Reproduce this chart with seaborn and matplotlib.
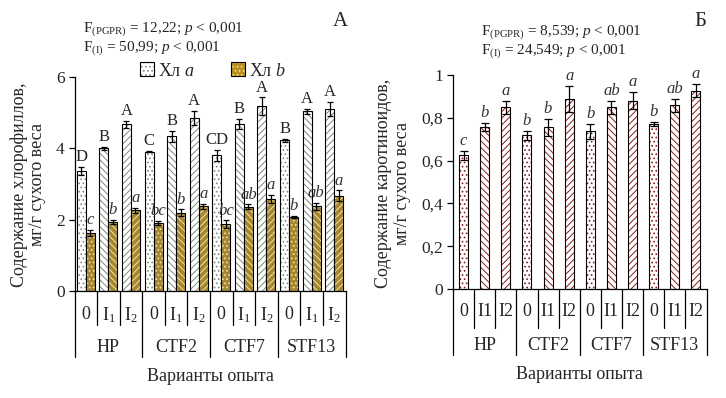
import numpy as np
import pandas as pd
import matplotlib
matplotlib.use('Agg')
import matplotlib.pyplot as plt
import seaborn as sns
import matplotlib.colors as mcolors
from matplotlib.ticker import FuncFormatter, FixedLocator
from matplotlib.patches import Patch
import matplotlib.transforms as mtransforms

# ---------------- data ----------------
groups = ['HP', 'CTF2', 'CTF7', 'STF13']
levels_left = ['0', 'I$_1$', 'I$_2$']
levels_right = ['0', 'I1', 'I2']

chl_a = [3.37, 4.00, 4.68, 3.91, 4.34, 4.85, 3.80, 4.68, 5.18, 4.22, 5.04, 5.10]
chl_a_err = [0.12, 0.05, 0.10, 0.02, 0.15, 0.20, 0.15, 0.15, 0.25, 0.05, 0.07, 0.20]
chl_b = [1.63, 1.94, 2.26, 1.91, 2.19, 2.37, 1.88, 2.36, 2.58, 2.08, 2.37, 2.67]
chl_b_err = [0.08, 0.05, 0.07, 0.05, 0.10, 0.07, 0.10, 0.07, 0.12, 0.03, 0.10, 0.15]
letters_a = ['D', 'B', 'A', 'C', 'B', 'A', 'CD', 'B', 'A', 'B', 'A', 'A']
letters_b = ['c', 'b', 'a', 'bc', 'b', 'a', 'bc', 'ab', 'a', 'b', 'ab', 'a']

carot = [0.625, 0.756, 0.849, 0.718, 0.756, 0.889, 0.737, 0.849, 0.880, 0.770, 0.858, 0.927]
carot_err = [0.02, 0.02, 0.03, 0.02, 0.04, 0.06, 0.035, 0.03, 0.04, 0.01, 0.03, 0.03]
letters_c = ['c', 'b', 'a', 'b', 'b', 'a', 'b', 'ab', 'a', 'b', 'ab', 'a']

pig_names = ['Хл a', 'Хл b']

# ---------------- style ----------------
sns.set_theme(style='white')
plt.rcParams['font.family'] = ['Liberation Serif', 'DejaVu Serif']
plt.rcParams['mathtext.fontset'] = 'custom'
plt.rcParams['mathtext.rm'] = 'Liberation Serif'
plt.rcParams['mathtext.it'] = 'Liberation Serif:italic'
plt.rcParams['hatch.linewidth'] = 0.7

GOLD = '#B8901E'
HATCH_A = '#7E8A78'
HATCH_B = '#F2E3A8'
RED = '#8B1A1A'
hatches = ['....', '\\\\\\\\\\', '/////']

cats = [f'{g}|{l}' for g in groups for l in levels_right]
n = len(cats)

fig = plt.figure(figsize=(7.26, 3.98), dpi=100)
W, H = 726, 398


def px_axes(x0, x1, y0, y1):
    return fig.add_axes([x0 / W, 1 - y0 / H, (x1 - x0) / W, (y0 - y1) / H])


axL = px_axes(74.5, 345.5, 291, 77)
axR = px_axes(453, 706.5, 289, 75)

# ---------------- left chart ----------------
dfL = pd.DataFrame({
    'cat': cats * 2,
    'pigment': [pig_names[0]] * n + [pig_names[1]] * n,
    'value': chl_a + chl_b,
})
sns.barplot(data=dfL, x='cat', y='value', hue='pigment', order=cats,
            hue_order=pig_names, palette={pig_names[0]: 'white', pig_names[1]: GOLD},
            width=0.8, edgecolor='black', linewidth=0.8, errorbar=None,
            legend=False, ax=axL)
for ci, cont in enumerate(axL.containers[:2]):
    hc = HATCH_A if ci == 0 else HATCH_B
    for i, bar in enumerate(cont):
        bar.set_hatch(hatches[i % 3])
        bar._hatch_color = mcolors.to_rgba(hc)

xs = np.arange(n)
axL.errorbar(xs - 0.2, chl_a, yerr=chl_a_err, fmt='none', ecolor='black',
             elinewidth=0.9, capsize=2.5, capthick=0.9)
axL.errorbar(xs + 0.2, chl_b, yerr=chl_b_err, fmt='none', ecolor='black',
             elinewidth=0.9, capsize=2.5, capthick=0.9)
for i in range(n):
    axL.text(xs[i] - 0.2, chl_a[i] + chl_a_err[i] + 0.05, letters_a[i],
             ha='center', va='bottom', fontsize=12)
    axL.text(xs[i] + 0.2, chl_b[i] + chl_b_err[i] + 0.05, letters_b[i],
             ha='center', va='bottom', fontsize=12, style='italic', color='#333333')

axL.set_xlim(-0.5, n - 0.5)
axL.set_ylim(0, 6)
axL.yaxis.set_major_locator(FixedLocator([0, 2, 4, 6]))
axL.yaxis.set_major_formatter(FuncFormatter(lambda v, p: f'{v:g}'.replace('.', ',')))

# ---------------- right chart ----------------
dfR = pd.DataFrame({'cat': cats, 'value': carot})
sns.barplot(data=dfR, x='cat', y='value', order=cats, color='white',
            width=0.43, edgecolor='black', linewidth=0.8, errorbar=None, ax=axR)
for i, bar in enumerate(axR.containers[0]):
    bar.set_facecolor('white')
    bar.set_hatch(hatches[i % 3])
    bar._hatch_color = mcolors.to_rgba(RED)
axR.errorbar(xs, carot, yerr=carot_err, fmt='none', ecolor='black',
             elinewidth=0.9, capsize=3, capthick=0.9)
for i in range(n):
    axR.text(xs[i], carot[i] + carot_err[i] + 0.008, letters_c[i],
             ha='center', va='bottom', fontsize=12, style='italic', color='#333333')
axR.set_xlim(-0.5, n - 0.5)
axR.set_ylim(0, 1)
axR.yaxis.set_major_locator(FixedLocator([0, 0.2, 0.4, 0.6, 0.8, 1.0]))
axR.yaxis.set_major_formatter(FuncFormatter(lambda v, p: f'{v:g}'.replace('.', ',')))

# ---------------- common axis styling ----------------
for ax, lv, inner, outer, ylev, ygrp in [
        (axL, levels_left, -0.159, -0.308, -0.112, -0.262),
        (axR, levels_right, -0.182, -0.308, -0.107, -0.262)]:
    for s in ['top', 'right']:
        ax.spines[s].set_visible(False)
    for s in ['left', 'bottom']:
        ax.spines[s].set_color('black')
        ax.spines[s].set_linewidth(0.9)
    ax.set_xticks([])
    ax.set_xlabel('')
    ax.set_ylabel('')
    ax.tick_params(axis='y', direction='out', length=4, width=0.9, color='black',
                   left=True, labelsize=12.5, pad=3)
    tr = mtransforms.blended_transform_factory(ax.transData, ax.transAxes)
    for b in range(n + 1):
        y1 = outer if b % 3 == 0 else inner
        ax.plot([b - 0.5, b - 0.5], [0, y1], color='black', lw=0.9,
                transform=tr, clip_on=False)
    for i in range(n):
        ax.text(i, ylev, lv[i % 3], transform=tr, ha='center', va='center',
                fontsize=13)
    for g, name in enumerate(groups):
        ax.text(3 * g + 1, ygrp, name, transform=tr, ha='center', va='center',
                fontsize=13)
    ax.text(0.5, -0.40, 'Варианты опыта', transform=ax.transAxes,
            ha='center', va='center', fontsize=13)

# ---------------- labels / annotations ----------------
fig.text(28 / W, 1 - 185 / H, 'Содержание хлорофиллов,\nмг/г сухого веса',
         rotation=90, ha='center', va='center', fontsize=13, linespacing=1.1)
fig.text(393 / W, 1 - 183 / H, 'Содержание каротиноидов,\nмг/г сухого веса',
         rotation=90, ha='center', va='center', fontsize=13, linespacing=1.1)

fig.text(83 / W, 1 - 29 / H, 'F$_{\\rm (PGPR)}$ = 12,22; $p$ < 0,001',
         ha='left', va='center', fontsize=11)
fig.text(83 / W, 1 - 48 / H, 'F$_{\\rm (I)}$ = 50,99; $p$ < 0,001',
         ha='left', va='center', fontsize=11)
fig.text(481 / W, 1 - 32 / H, 'F$_{\\rm (PGPR)}$ = 8,539; $p$ < 0,001',
         ha='left', va='center', fontsize=11)
fig.text(481 / W, 1 - 51 / H, 'F$_{\\rm (I)}$ = 24,549; $p$ < 0,001',
         ha='left', va='center', fontsize=11)
fig.text(340 / W, 1 - 22 / H, 'А', ha='center', va='center', fontsize=15)
fig.text(700 / W, 1 - 22 / H, 'Б', ha='center', va='center', fontsize=15)

handles = [Patch(facecolor='white', edgecolor='black', hatch='....', linewidth=0.8),
           Patch(facecolor=GOLD, edgecolor='black', hatch='....', linewidth=0.8)]
leg = fig.legend(handles, ['Хл $a$', 'Хл $b$'], loc='center',
                 bbox_to_anchor=(213 / W, 1 - 71 / H), ncol=2, frameon=False,
                 fontsize=13, handlelength=0.8, handleheight=0.8,
                 handletextpad=0.2, columnspacing=2.0)
for h, hc in zip(leg.legend_handles, [HATCH_A, HATCH_B]):
    h._hatch_color = mcolors.to_rgba(hc)

fig.savefig('out.png', dpi=100, facecolor='white')
